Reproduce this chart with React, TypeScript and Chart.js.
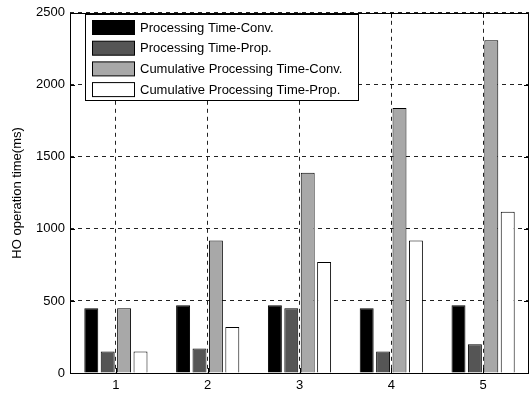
import React, { useEffect, useRef } from "react";
import { Chart, registerables } from "chart.js";

Chart.register(...registerables);

const categories = ["1", "2", "3", "4", "5"];
const procConv = [450, 470, 470, 450, 470];
const procProp = [150, 170, 450, 150, 200];
const cumConv = [450, 920, 1390, 1840, 2310];
const cumProp = [150, 320, 770, 920, 1120];
const seriesNames = [
  "Processing Time-Conv.",
  "Processing Time-Prop.",
  "Cumulative Processing Time-Conv.",
  "Cumulative Processing Time-Prop.",
];
const yTicks = [0, 500, 1000, 1500, 2000, 2500];
const yTitle = "HO operation time(ms)";

const FONT = "'Liberation Sans', Arial, Helvetica, sans-serif";

const framePlugin = {
  id: "frame",
  afterDraw(chart: any) {
    const { ctx, chartArea } = chart;
    const { left, right, top, bottom } = chartArea;
    ctx.save();
    ctx.strokeStyle = "#000";
    ctx.lineWidth = 1;
    ctx.setLineDash([]);
    ctx.strokeRect(Math.round(left) + 0.5, Math.round(top) + 0.5, Math.round(right - left) - 1, Math.round(bottom - top));
    const xs = chart.scales.x;
    const ys = chart.scales.y;
    const tl = 5;
    ctx.beginPath();
    for (let i = 0; i < categories.length; i++) {
      const x = Math.round(xs.getPixelForValue(i)) + 0.5;
      ctx.moveTo(x, bottom);
      ctx.lineTo(x, bottom - tl);
      ctx.moveTo(x, top);
      ctx.lineTo(x, top + tl);
    }
    for (const v of yTicks) {
      const y = Math.round(ys.getPixelForValue(v)) + 0.5;
      ctx.moveTo(left, y);
      ctx.lineTo(left + tl, y);
      ctx.moveTo(right, y);
      ctx.lineTo(right - tl, y);
    }
    ctx.stroke();

    // legend inside plot
    const lx = 85.5, ly = 14.5, lw = 273, lh = 86;
    ctx.fillStyle = "#fff";
    ctx.fillRect(lx, ly, lw, lh);
    ctx.strokeRect(lx, ly, lw, lh);
    ctx.font = `13px ${FONT}`;
    ctx.textBaseline = "middle";
    ctx.textAlign = "left";
    chart.data.datasets.forEach((ds: any, i: number) => {
      const ry = 20.5 + i * 20.7;
      ctx.fillStyle = ds.backgroundColor;
      ctx.fillRect(92.5, ry, 42, 14);
      ctx.strokeStyle = "#000";
      ctx.strokeRect(92.5, ry, 42, 14);
      ctx.fillStyle = "#000";
      ctx.fillText(ds.label, 140, ry + 7.5);
    });
    ctx.restore();
  },
};

export default function App() {
  const ref = useRef<HTMLCanvasElement>(null);
  useEffect(() => {
    document.body.style.margin = "0";
    const colors = ["#000000", "#555555", "#a8a8a8", "#ffffff"];
    const values = [procConv, procProp, cumConv, cumProp];
    const chart = new Chart(ref.current!, {
      type: "bar",
      data: {
        labels: categories,
        datasets: values.map((d, i) => ({
          label: seriesNames[i],
          data: d,
          backgroundColor: colors[i],
          borderColor: "#000",
          borderWidth: 1,
          categoryPercentage: 0.715,
          barPercentage: 0.85,
        })),
      },
      options: {
        animation: false,
        responsive: false,
        maintainAspectRatio: false,
        layout: { padding: { left: 0, top: 10, right: 3, bottom: 0 } },
        plugins: { legend: { display: false }, tooltip: { enabled: false } },
        scales: {
          x: {
            offset: true,
            grid: { offset: false, color: "#222", lineWidth: 1, drawTicks: false },
            border: { display: false, dash: [4, 4] },
            ticks: { color: "#000", font: { family: FONT, size: 13 }, padding: 5 },
            afterFit: (s: any) => { s.height = 20; },
          },
          y: {
            min: 0,
            max: 2500,
            grid: { color: "#222", lineWidth: 1, drawTicks: false },
            border: { display: false, dash: [4, 4] },
            ticks: {
              stepSize: 500,
              color: "#000",
              font: { family: FONT, size: 13 },
              padding: 5,
              callback: (v: any) => String(v),
            },
            title: { display: true, text: yTitle, color: "#000", font: { family: FONT, size: 13 }, padding: { top: 10, bottom: 0 } },
            afterFit: (s: any) => { s.width = 70; },
          },
        },
      },
      plugins: [framePlugin],
    });
    return () => chart.destroy();
  }, []);
  return (
    <div style={{ width: 532, height: 393 }}>
      <canvas ref={ref} width={532} height={393} style={{ display: "block" }} />
    </div>
  );
}
